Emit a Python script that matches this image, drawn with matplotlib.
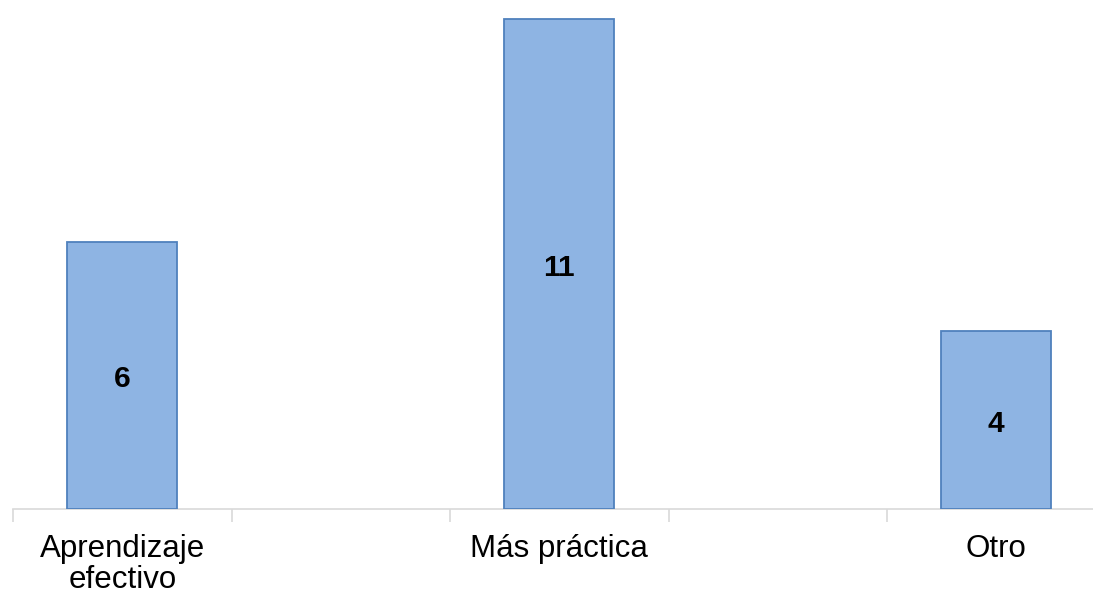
import matplotlib.pyplot as plt
import numpy as np

plt.rcParams["font.family"] = ["Liberation Sans", "DejaVu Sans"]

categories = ["Aprendizaje\nefectivo", "Más práctica", "Otro"]
counts = [6, 11, 4]

BAR_FACE = "#8EB4E3"
BAR_EDGE = "#4F81BD"
AXIS_GRAY = "#D9D9D9"

# the original chart leaves an empty slot between each pair of categories
positions = np.arange(len(categories)) * 2
boundaries = np.arange(-0.5, positions[-1] + 1.0, 1.0)

fig = plt.figure(figsize=(10.93, 5.93), dpi=100)
ax = fig.add_axes([13 / 1093, 84 / 593, 1080 / 1093, 508 / 593])

bars = ax.bar(positions, counts, width=0.505, color=BAR_FACE,
              edgecolor=BAR_EDGE, linewidth=1.3, zorder=3)
for bar, value in zip(bars, counts):
    ax.annotate(str(value), (bar.get_x() + bar.get_width() / 2, value / 2),
                xytext=(0, -3), textcoords="offset points",
                ha="center", va="center", fontsize=21.5, fontweight="bold",
                color="black", zorder=4)

ax.set_xticks(positions, categories, fontsize=22.5, linespacing=1.05)
ax.set_xticks(boundaries, minor=True)
ax.tick_params(axis="x", which="major", length=0, pad=18)
ax.tick_params(axis="x", which="minor", length=9, width=1.2, color=AXIS_GRAY)
ax.set_yticks([])

# limits after the ticks, since set_xticks widens the view to fit them
ax.set_xlim(-0.5, -0.5 + 1080 / 218.5)
ax.set_ylim(0, 11.4)

for side in ["top", "right", "left"]:
    ax.spines[side].set_visible(False)
ax.spines["bottom"].set_color(AXIS_GRAY)
ax.spines["bottom"].set_linewidth(1.2)

fig.savefig("out.png", dpi=100, facecolor="white")
